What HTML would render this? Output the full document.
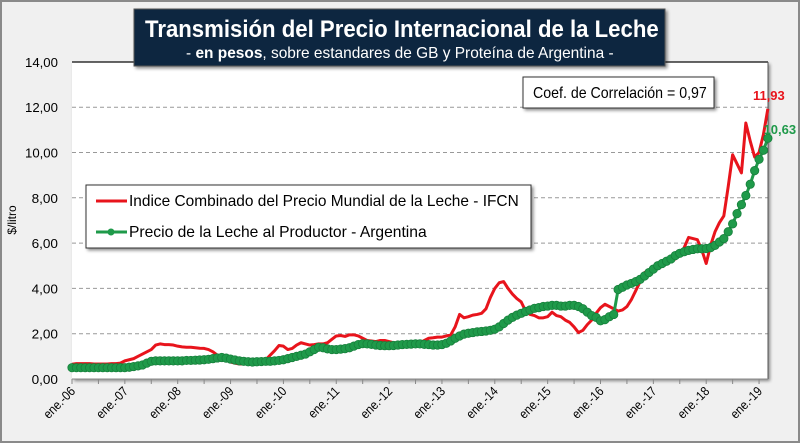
<!DOCTYPE html>
<html><head><meta charset="utf-8"><style>
body{margin:0;width:800px;height:443px;overflow:hidden;background:#fff;font-family:"Liberation Sans",sans-serif}
svg text{font-family:"Liberation Sans",sans-serif}
</style></head><body>
<svg id="chart" width="800" height="443" xmlns="http://www.w3.org/2000/svg">
<defs><filter id="sh" x="-10%" y="-10%" width="130%" height="130%"><feDropShadow dx="2" dy="2" stdDeviation="1.5" flood-color="#000" flood-opacity="0.45"/></filter></defs>
<rect x="1" y="1" width="798" height="441" fill="#f0f0f0" stroke="#8a8a8a" stroke-width="2"/>
<rect x="72" y="62" width="696" height="317" fill="#fff" filter="url(#sh)"/>
<g id="grid"></g>
<line x1="72" y1="62" x2="768" y2="62" stroke="#333" stroke-width="1.5"/>
<line x1="768" y1="62" x2="768" y2="379" stroke="#555" stroke-width="1"/>
<line x1="72" y1="379" x2="768" y2="379" stroke="#888" stroke-width="1"/>
<g id="xticks"></g>
<g id="series"></g>
<rect x="134" y="9" width="531" height="57" fill="#112540" stroke="#555" filter="url(#sh)"/>
<text class="fit" data-x="145" data-y="37" data-w="514" fill="#fff" font-size="24" font-weight="bold">Transmisión del Precio Internacional de la Leche</text>
<text class="fit" data-x="186" data-y="58" data-w="428" fill="#fff" font-size="16">- <tspan font-weight="bold">en pesos</tspan>, sobre estandares de GB y Proteína de  Argentina -</text>
<text transform="translate(16,220) rotate(-90)" text-anchor="middle" font-size="12" fill="#000">$/litro</text>
<g>
<rect x="523" y="77" width="191" height="31" fill="#fff" stroke="#333" filter="url(#sh)"/>
<text class="fit" data-x="533" data-y="98" data-w="174" font-size="16">Coef. de Correlación = 0,97</text>
</g>
<g>
<rect x="86" y="185" width="445" height="63" fill="#fff" stroke="#333" filter="url(#sh)"/>
<g><line x1="96" y1="201" x2="127" y2="201" stroke="#e8141c" stroke-width="3"/>
<text class="fit" data-x="129" data-y="206" data-w="390" font-size="16">Indice Combinado del Precio Mundial de la Leche - IFCN</text></g>
<g><line x1="96" y1="232" x2="127" y2="232" stroke="#1f9a4a" stroke-width="3"/><circle cx="111" cy="232" r="3.5" fill="#1f9a4a"/>
<text class="fit" data-x="129" data-y="237" data-w="298" font-size="16">Precio de la Leche al Productor - Argentina</text></g>
</g>
<g id="labels"></g>
</svg>
<script>
const yTicks=[0,2,4,6,8,10,12,14];
const yTickLabels=["0,00","2,00","4,00","6,00","8,00","10,00","12,00","14,00"];
const xTickLabels=["ene.-06","ene.-07","ene.-08","ene.-09","ene.-10","ene.-11","ene.-12","ene.-13","ene.-14","ene.-15","ene.-16","ene.-17","ene.-18","ene.-19"];
const ifcn=[0.65,0.68,0.68,0.68,0.68,0.66,0.66,0.66,0.66,0.68,0.68,0.70,
0.80,0.85,0.90,1.00,1.10,1.20,1.30,1.50,1.55,1.52,1.52,1.50,
1.45,1.42,1.40,1.40,1.38,1.36,1.35,1.30,1.20,1.05,0.95,0.85,
0.75,0.70,0.66,0.66,0.68,0.72,0.75,0.78,0.85,1.05,1.25,1.48,
1.45,1.30,1.35,1.50,1.60,1.55,1.50,1.52,1.55,1.55,1.60,1.75,
1.90,1.92,1.88,1.95,1.95,1.90,1.80,1.70,1.68,1.65,1.70,1.70,
1.65,1.60,1.58,1.55,1.55,1.55,1.58,1.60,1.70,1.80,1.82,1.85,
1.85,1.90,1.95,2.30,2.85,2.70,2.75,2.82,2.85,2.90,3.10,3.60,
4.00,4.25,4.30,4.00,3.75,3.55,3.40,3.00,2.85,2.80,2.70,2.70,
2.75,2.95,2.80,2.75,2.60,2.50,2.30,2.05,2.15,2.40,2.60,2.90,
3.15,3.30,3.20,3.10,3.00,3.05,3.20,3.50,3.90,4.30,4.70,4.80,
4.85,5.00,5.20,5.30,5.35,5.30,5.50,5.80,6.25,6.20,6.15,5.70,
5.10,5.90,6.50,6.90,7.20,8.50,9.90,9.50,9.10,11.30,10.50,9.80,
10.00,10.80,11.93];
const productor=[0.50,0.50,0.50,0.50,0.50,0.50,0.50,0.50,0.50,0.50,0.50,0.50,
0.50,0.52,0.55,0.58,0.62,0.70,0.78,0.80,0.80,0.80,0.80,0.80,
0.80,0.80,0.82,0.82,0.83,0.84,0.85,0.87,0.90,0.93,0.95,0.92,
0.88,0.84,0.80,0.78,0.76,0.75,0.76,0.77,0.78,0.78,0.80,0.82,
0.85,0.90,0.95,1.00,1.05,1.10,1.20,1.30,1.40,1.38,1.33,1.30,
1.30,1.32,1.34,1.38,1.45,1.52,1.56,1.55,1.53,1.50,1.48,1.47,
1.47,1.48,1.50,1.52,1.53,1.54,1.55,1.55,1.53,1.52,1.50,1.50,
1.52,1.58,1.68,1.80,1.90,1.98,2.02,2.05,2.08,2.10,2.12,2.15,
2.20,2.30,2.45,2.60,2.72,2.82,2.90,2.98,3.05,3.12,3.15,3.20,
3.22,3.25,3.25,3.22,3.22,3.25,3.25,3.20,3.10,2.95,2.80,2.72,
2.57,2.62,2.75,2.85,3.95,4.05,4.15,4.22,4.30,4.40,4.55,4.70,
4.85,5.00,5.10,5.20,5.30,5.45,5.55,5.62,5.68,5.72,5.75,5.75,
5.76,5.80,5.90,6.05,6.20,6.50,6.85,7.30,7.70,8.10,8.60,9.20,
9.70,10.10,10.63];
const lastLabels=["11,93","10,63"];
const NS="http://www.w3.org/2000/svg";
const X0=72,MONTH=52.85/12,Y0=379,YU=22.65;
const xs=i=>X0+i*MONTH, ys=v=>Y0-v*YU;
function mk(t,a,p){const e=document.createElementNS(NS,t);for(const k in a)e.setAttribute(k,a[k]);p.appendChild(e);return e;}
function fit(t,x,y,w,anchor){const L=t.getComputedTextLength()||w;const s=Math.min(1.1,w/L);
 t.setAttribute('x',0);t.setAttribute('y',0);t.removeAttribute('text-anchor');
 t.setAttribute('transform',`translate(${x+(anchor==='end'?-L*s:0)},${y}) scale(${s},1)`);}
document.querySelectorAll('text.fit').forEach(t=>fit(t,+t.dataset.x,+t.dataset.y,+t.dataset.w));
const grid=document.getElementById('grid');
yTicks.forEach((v,i)=>{
 if(v>0&&v<14){const l=mk('line',{x1:X0,x2:768,y1:ys(v),y2:ys(v),stroke:'#999','stroke-dasharray':'4,3'},grid);
 
 }
 const t=mk('text',{'font-size':13},grid);t.textContent=yTickLabels[i];
 
 
 fit(t,58,ys(v)+5,yTickLabels[i].length*6.6,'end');
});
const xt=document.getElementById('xticks');
for(let m=0;m<=ifcn.length;m+=6){mk('line',{x1:xs(m),x2:xs(m),y1:379,y2:384,stroke:'#888'},xt);}
xTickLabels.forEach((s,i)=>{const x=xs(i*12);
 const t=mk('text',{x:0,y:0,'text-anchor':'end','font-size':13,transform:`translate(${x+4},${392}) rotate(-45) scale(0.88,1)`},xt);t.textContent=s;
 
 });
const g=document.getElementById('series');
const pl=mk('polyline',{points:ifcn.map((v,i)=>xs(i)+','+ys(v)).join(' '),fill:'none',stroke:'#e8141c','stroke-width':3,'stroke-linejoin':'round'},g);


const pg=mk('polyline',{points:productor.map((v,i)=>xs(i)+','+ys(v)).join(' '),fill:'none',stroke:'#1f9a4a','stroke-width':3},g);


productor.forEach((v,i)=>{const c=mk('circle',{cx:xs(i),cy:ys(v),r:4.2,fill:'#1f9a4a',stroke:'#17803c','stroke-width':0.8},g);
 
 });
const lb=document.getElementById('labels');
const n=ifcn.length-1;
const t1=mk('text',{x:xs(n)+1,y:ys(ifcn[n])-9,'text-anchor':'middle','font-size':13,'font-weight':'bold',fill:'#e8141c'},lb);t1.textContent=lastLabels[0];


const m=productor.length-1;
const t2=mk('text',{x:xs(m)+12,y:ys(productor[m])-4,'text-anchor':'middle','font-size':13,'font-weight':'bold',fill:'#1f9a4a'},lb);t2.textContent=lastLabels[1];


</script>
</body></html>
